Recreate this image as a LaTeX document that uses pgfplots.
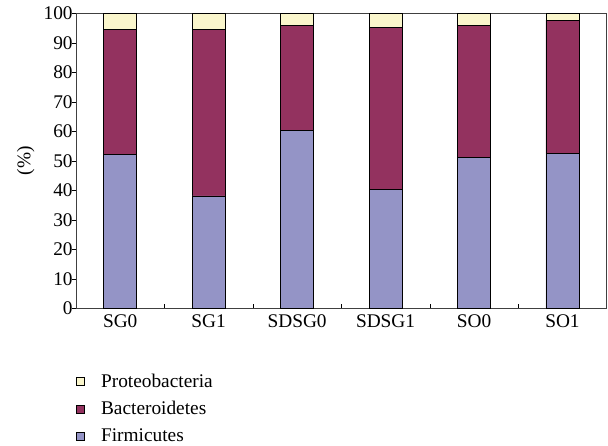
\documentclass[border=0pt]{standalone}
\usepackage{fontspec}
\setmainfont{Liberation Serif}
\usepackage{pgfplots}
\pgfplotsset{compat=1.18}

\definecolor{firm}{HTML}{9494C6}
\definecolor{bact}{HTML}{93325F}
\definecolor{prot}{HTML}{FAF6CC}

\begin{document}
\begin{tikzpicture}
\begin{axis}[
  scale only axis,
  width=398pt, height=221pt,
  at={(0,0)}, anchor=south west,
  ybar stacked,
  bar width=0.373,
  ymin=0, ymax=100,
  ytick={0,10,...,100},
  xmin=-0.5, xmax=5.5,
  xtick={0,...,5},
  xticklabels={SG0,SG1,SDSG0,SDSG1,SO0,SO1},
  major x tick style={draw=none},
  minor xtick={0.5,1.5,...,4.5},
  xtick pos=bottom, ytick pos=left,
  tick align=inside,
  major tick length=3pt, minor tick length=3pt,
  y tick style={xshift=-3pt, black},
  minor x tick style={black},
  axis line style={black!75},
  font=\fontsize{14.5}{17}\selectfont,
  ticklabel style={font=\fontsize{14.5}{17}\selectfont},
  yticklabel style={xshift=1pt},
  xticklabel style={yshift=-1pt},
  /pgf/number format/assume math mode=true,
  ylabel={(\%)},
  every axis plot/.append style={draw=black, line width=0.6pt},
  reverse legend,
  legend style={at={(axis description cs:0.0,-0.218)}, anchor=north west,
    draw=none, fill=none, inner sep=0pt, row sep=7pt,
    font=\fontsize{14.5}{17}\selectfont,
    nodes={inner sep=1pt},
    /tikz/every odd column/.append style={column sep=11pt},
    cells={anchor=west}},
  legend image code/.code={\draw[#1, draw=black, line width=0.6pt] (0pt,-3pt) rectangle (6pt,3pt);},
]
\addplot[fill=firm] coordinates {(0,52.3) (1,38.1) (2,60.3) (3,40.3) (4,51.3) (5,52.5)};
\addplot[fill=bact] coordinates {(0,42.2) (1,56.4) (2,35.8) (3,55.0) (4,44.8) (5,45.3)};
\addplot[fill=prot] coordinates {(0,5.5) (1,5.5) (2,3.9) (3,4.7) (4,3.9) (5,2.2)};
\legend{Firmicutes,Bacteroidetes,Proteobacteria}
\end{axis}
\path[use as bounding box] (-57pt,-103.3pt) rectangle (399pt,231.2pt);
\end{tikzpicture}
\end{document}
